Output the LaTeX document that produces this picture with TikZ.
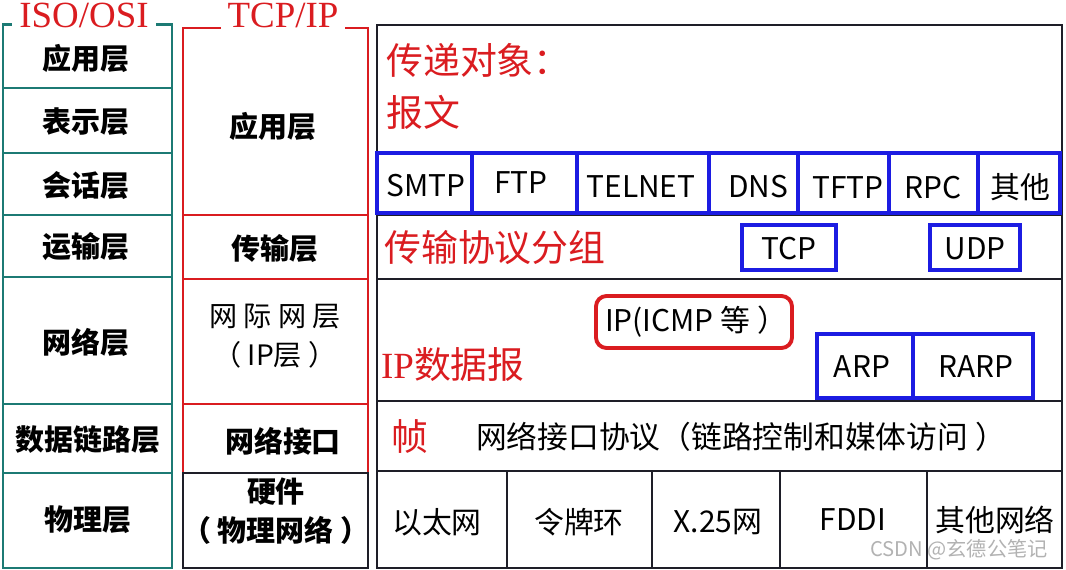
\documentclass[tikz,border=0pt]{standalone}
\usepackage{fontspec}
\setmainfont{Liberation Serif}
\newfontfamily\cjk{Noto Sans CJK SC}

\definecolor{ositeal}{RGB}{28,122,116}
\definecolor{tcpred}{RGB}{218,28,32}
\definecolor{protoblue}{RGB}{28,28,226}
\definecolor{framegray}{RGB}{30,30,40}

\begin{document}
\begin{tikzpicture}[x=0.02cm, y=-0.02cm]
    \useasboundingbox (0,0) rectangle (1066,570);

    % ISO/OSI column
    \begin{scope}[%
        draw = ositeal,
        line width = 1.7pt,
        every node/.style = {%
            font = \cjk\bfseries\fontsize{16.5}{18}\selectfont
        }
    ]
        \draw (3,25) rectangle (172,88);
        \draw (3,88) rectangle (172,153);
        \draw (3,153) rectangle (172,215);
        \draw (3,215) rectangle (172,277);
        \draw (3,277) rectangle (172,404);
        \draw (3,404) rectangle (172,473);
        \draw (3,473) rectangle (172,568);

        \node (osiapp) at (86,58) {应用层};
        \node (osipres) at (86,122) {表示层};
        \node (osisess) at (86,186) {会话层};
        \node (ositrans) at (86,247) {运输层};
        \node (osinet) at (86,342) {网络层};
        \node (osilink) at (88,440) {数据链路层};
        \node (osiphys) at (88,520) {物理层};
    \end{scope}

    % TCP/IP column
    \begin{scope}[%
        draw = tcpred,
        line width = 1.2pt,
        every node/.style = {%
            font = \cjk\bfseries\fontsize{16.5}{18}\selectfont
        }
    ]
        \draw (183,28) rectangle (368,215);
        \draw (183,215) rectangle (368,279);
        \draw (183,279) rectangle (368,404);
        \draw (183,404) rectangle (368,473);
        \draw[framegray] (183,473) rectangle (368,568);

        \node (tcpapp) at (273,126) {应用层};
        \node (tcptrans) at (275,249) {传输层};
        \node[align=center, font=\cjk\fontsize{16}{22}\selectfont] (tcpnet) at (275,336) {网 际 网 层\\（ IP层 ）};
        \node (tcplink) at (283,441) {网络接口};
        \node[align=center, font=\cjk\bfseries\fontsize{16.5}{22}\selectfont] (tcphw) at (276,511) {硬件\\（ 物理网络 ）};
    \end{scope}

    % Column titles
    \begin{scope}[%
        every node/.style = {%
            fill = white,
            text = tcpred,
            inner xsep = 4pt,
            inner ysep = 1pt,
            font = \fontsize{21}{23}\selectfont
        }
    ]
        \node (osititle) at (84,15) {ISO/OSI};
        \node (tcptitle) at (283,15) {TCP/IP};
    \end{scope}

    % Protocol column
    \begin{scope}[%
        draw = framegray,
        line width = 1.4pt
    ]
        \draw (377,25) rectangle (1062,568);
        \draw (377,215) -- (1062,215);
        \draw (377,279) -- (1062,279);
        \draw (377,401) -- (1062,401);
        \draw (377,471) -- (1062,471);
        \draw (507,471) -- (507,568);
        \draw (652,471) -- (652,568);
        \draw (780,471) -- (780,568);
        \draw (927,471) -- (927,568);
    \end{scope}

    % Protocol boxes
    \begin{scope}[%
        draw = protoblue,
        line width = 2.2pt,
        every node/.style = {%
            font = \cjk\fontsize{17}{19}\selectfont
        }
    ]
        \draw (377,153) rectangle (472,213);
        \draw (472,153) rectangle (577,213);
        \draw (577,153) rectangle (709,213);
        \draw (709,153) rectangle (798,213);
        \draw (798,153) rectangle (889,213);
        \draw (889,153) rectangle (978,213);
        \draw (978,153) rectangle (1060,213);
        \draw (742,225) rectangle (836,270);
        \draw (930,225) rectangle (1020,270);
        \draw (817,334) rectangle (913,398);
        \draw (913,334) rectangle (1033,398);
        \draw[tcpred, rounded corners=6pt] (596,296) rectangle (792,348);

        \node (smtp) at (426,186) {SMTP};
        \node (ftp) at (521,183) {FTP};
        \node (telnet) at (641,187) {TELNET};
        \node (dns) at (758,187) {DNS};
        \node (tftp) at (848,188) {TFTP};
        \node (rpc) at (933,188) {RPC};
        \node (other) at (1020,187) {其他};
        \node (tcp) at (789,249) {TCP};
        \node (udp) at (975,249) {UDP};
        \node (ip) at (696,322) {IP(ICMP 等 ）};
        \node (arp) at (862,367) {ARP};
        \node (rarp) at (976,367) {RARP};
    \end{scope}

    % Red captions
    \begin{scope}[%
        every node/.style = {%
            anchor = west,
            text = tcpred,
            font = \cjk\fontsize{21}{23}\selectfont
        }
    ]
        \node (object) at (380,60) {传递对象：};
        \node (message) at (380,112) {报文};
        \node (segment) at (378,248) {传输协议分组};
        \node (datagram) at (375,365) {{\rmfamily IP}数据报};
        \node (frame) at (385,437) {帧};
    \end{scope}

    % Network access texts
    \begin{scope}[%
        every node/.style = {%
            font = \cjk\fontsize{17}{19}\selectfont
        }
    ]
        \node[anchor=west, font=\cjk\fontsize{17.5}{19}\selectfont] (linkproto) at (470,437) {网络接口协议（链路控制和媒体访问 ）};
        \node (ethernet) at (437,522) {以太网};
        \node (tokenring) at (579,522) {令牌环};
        \node (xnet) at (718,522) {X.25网};
        \node (fddi) at (853,520) {FDDI};
        \node (othernet) at (995,520) {其他网络};
        \node[text=gray!60, font=\cjk\fontsize{11.5}{13}\selectfont] (mark) at (959,550) {CSDN @玄德公笔记};
    \end{scope}
\end{tikzpicture}
\end{document}
